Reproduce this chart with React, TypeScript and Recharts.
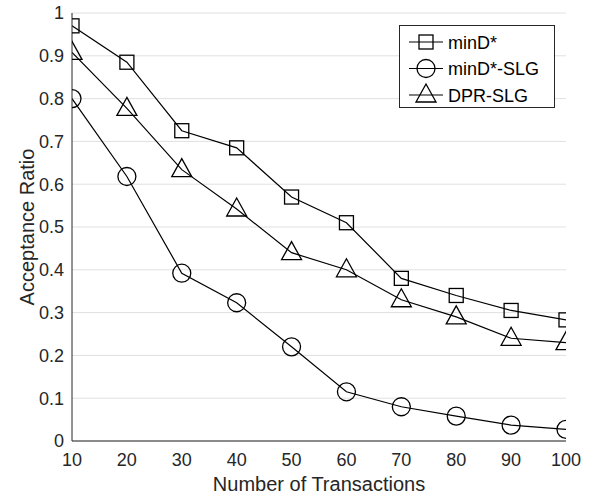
import { LineChart, Line, XAxis, YAxis, CartesianGrid, Legend } from "recharts";

// x values (number of transactions)
const transactions = [10, 20, 30, 40, 50, 60, 70, 80, 90, 100];

// acceptance ratio per series
const minD = [0.97, 0.885, 0.725, 0.685, 0.57, 0.51, 0.38, 0.34, 0.305, 0.283];
const minDSlg = [0.8, 0.618, 0.392, 0.323, 0.22, 0.115, 0.08, 0.058, 0.037, 0.027];
const dprSlg = [0.908, 0.777, 0.634, 0.542, 0.44, 0.4, 0.33, 0.29, 0.24, 0.23];

const xTicks = [10, 20, 30, 40, 50, 60, 70, 80, 90, 100];
const yTicks = [0, 0.1, 0.2, 0.3, 0.4, 0.5, 0.6, 0.7, 0.8, 0.9, 1];

const seriesNames = ["minD*", "minD*-SLG", "DPR-SLG"];

const chartData = transactions.map((x, i) => ({
  x,
  minD: minD[i],
  minDSlg: minDSlg[i],
  dprSlg: dprSlg[i],
}));

const AXIS = "#262626";
const FONT = "Arial, 'Liberation Sans', Helvetica, sans-serif";

type DotProps = { cx?: number; cy?: number; index?: number };

// hollow MATLAB-like markers
const squareAt = (cx: number, cy: number, key?: string) => (
  <rect key={key} x={cx - 7} y={cy - 7} width={14} height={14} fill="none" stroke="#000" strokeWidth={1.3} />
);
const circleAt = (cx: number, cy: number, key?: string) => (
  <circle key={key} cx={cx} cy={cy} r={9} fill="none" stroke="#000" strokeWidth={1.3} />
);
const triangleAt = (cx: number, cy: number, key?: string) => (
  <polygon
    key={key}
    points={`${cx},${cy - 11} ${cx - 10},${cy + 7} ${cx + 10},${cy + 7}`}
    fill="none"
    stroke="#000"
    strokeWidth={1.3}
  />
);

const SquareDot = ({ cx, cy, index }: DotProps) =>
  cx == null || cy == null ? null : squareAt(cx, cy, `sq-${index}`);
const CircleDot = ({ cx, cy, index }: DotProps) =>
  cx == null || cy == null ? null : circleAt(cx, cy, `ci-${index}`);
const TriangleDot = ({ cx, cy, index }: DotProps) =>
  cx == null || cy == null ? null : triangleAt(cx, cy, `tr-${index}`);

const markers = [squareAt, circleAt, triangleAt];

// legend box in the top right corner
const LegendBox = () => (
  <svg width={156} height={83} style={{ display: "block" }}>
    <rect x={0.5} y={0.5} width={155} height={82} fill="#fff" stroke={AXIS} strokeWidth={1} />
    {seriesNames.map((name, i) => {
      const cy = 17 + i * 26.5;
      return (
        <g key={name}>
          <line x1={10} y1={cy} x2={44} y2={cy} stroke="#000" strokeWidth={1.2} />
          {markers[i](27, cy)}
          <text x={49} y={cy + 6.5} fontSize={18} fontFamily={FONT} fill="#000">
            {name}
          </text>
        </g>
      );
    })}
  </svg>
);

const YLabel = ({ viewBox }: any) => {
  const cx = 27;
  const cy = viewBox.y + viewBox.height / 2;
  return (
    <text
      x={cx}
      y={cy}
      transform={`rotate(-90, ${cx}, ${cy})`}
      textAnchor="middle"
      dominantBaseline="central"
      fontSize={20}
      fontFamily={FONT}
      fill={AXIS}
    >
      Acceptance Ratio
    </text>
  );
};

export default function App() {
  const tickStyle = { fill: AXIS, fontSize: 18, fontFamily: FONT };
  return (
    <div style={{ position: "absolute", left: 0, top: 0, background: "#fff" }}>
      <LineChart
        width={593}
        height={499}
        data={chartData}
        margin={{ top: 13, right: 27, bottom: 0, left: 12 }}
      >
        <CartesianGrid
          horizontal={true}
          vertical={false}
          stroke="#e0e0e0"
          xAxisId="x"
          yAxisId="y"
        />
        <XAxis
          xAxisId="x"
          dataKey="x"
          type="number"
          domain={[10, 100]}
          ticks={xTicks}
          allowDataOverflow
          height={58}
          tickLine={false}
          tickSize={0}
          tickMargin={12}
          axisLine={{ stroke: AXIS }}
          tick={tickStyle}
          label={{
            value: "Number of Transactions",
            position: "insideBottom",
            offset: 8,
            fill: AXIS,
            fontSize: 20,
            fontFamily: FONT,
          }}
        />
        <XAxis
          xAxisId="xb"
          dataKey="x"
          type="number"
          domain={[10, 100]}
          ticks={xTicks}
          allowDataOverflow
          mirror
          height={0}
          tick={false}
          tickSize={5}
          tickLine={{ stroke: AXIS }}
          axisLine={false}
        />
        <XAxis
          xAxisId="xt"
          orientation="top"
          dataKey="x"
          type="number"
          domain={[10, 100]}
          ticks={xTicks}
          allowDataOverflow
          mirror
          height={0}
          tick={false}
          tickSize={5}
          tickLine={{ stroke: AXIS }}
          axisLine={{ stroke: AXIS }}
        />
        <YAxis
          yAxisId="y"
          type="number"
          domain={[0, 1]}
          ticks={yTicks}
          allowDataOverflow
          width={60}
          tickLine={false}
          tickSize={0}
          tickMargin={8}
          axisLine={{ stroke: AXIS }}
          tick={tickStyle}
          tickFormatter={(v) => String(v)}
          label={<YLabel />}
        />
        <YAxis
          yAxisId="yl"
          type="number"
          domain={[0, 1]}
          ticks={yTicks}
          allowDataOverflow
          mirror
          width={0}
          tick={false}
          tickSize={5}
          tickLine={{ stroke: AXIS }}
          axisLine={false}
        />
        <YAxis
          yAxisId="yr"
          orientation="right"
          type="number"
          domain={[0, 1]}
          ticks={yTicks}
          allowDataOverflow
          mirror
          width={0}
          tick={false}
          tickSize={5}
          tickLine={{ stroke: AXIS }}
          axisLine={{ stroke: AXIS }}
        />
        <Legend
          layout="vertical"
          align="center"
          verticalAlign="middle"
          wrapperStyle={{ position: "absolute", left: 399, top: 25, width: 156, height: 83 }}
          content={() => <LegendBox />}
        />
        <Line
          xAxisId="x"
          yAxisId="y"
          type="linear"
          dataKey="minD"
          name={seriesNames[0]}
          stroke="#000"
          strokeWidth={1.2}
          dot={<SquareDot />}
          activeDot={false}
          isAnimationActive={false}
        />
        <Line
          xAxisId="x"
          yAxisId="y"
          type="linear"
          dataKey="minDSlg"
          name={seriesNames[1]}
          stroke="#000"
          strokeWidth={1.2}
          dot={<CircleDot />}
          activeDot={false}
          isAnimationActive={false}
        />
        <Line
          xAxisId="x"
          yAxisId="y"
          type="linear"
          dataKey="dprSlg"
          name={seriesNames[2]}
          stroke="#000"
          strokeWidth={1.2}
          dot={<TriangleDot />}
          activeDot={false}
          isAnimationActive={false}
        />
      </LineChart>
    </div>
  );
}
